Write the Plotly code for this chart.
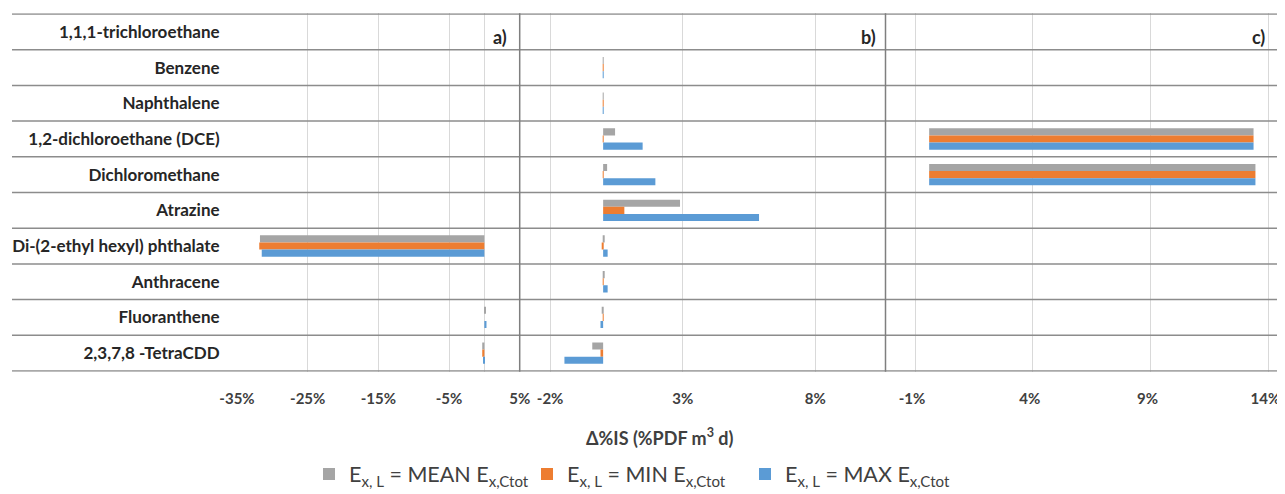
import plotly.graph_objects as go

# page body has an 8px margin: build the figure so that it fits the window
OFF = 8
W, H = 1285 - OFF, 494 - OFF

categories = [
    "1,1,1-trichloroethane",
    "Benzene",
    "Naphthalene",
    "1,2-dichloroethane (DCE)",
    "Dichloromethane",
    "Atrazine",
    "Di-(2-ethyl hexyl) phthalate",
    "Anthracene",
    "Fluoranthene",
    "2,3,7,8 -TetraCDD",
]

# Panel a) values (%)
mean_a = [0, 0, 0, 0, 0, 0, -31.75, 0, 0.1, -0.3]
min_a = [0, 0, 0, 0, 0, 0, -31.85, 0, 0.0, -0.3]
max_a = [0, 0, 0, 0, 0, 0, -31.5, 0, 0.3, -0.15]

# Panel b) values (%)
mean_b = [0, 0.01, 0.02, 0.45, 0.15, 2.9, 0.03, 0.05, -0.04, -0.41]
min_b = [0, 0.02, 0.02, 0.02, 0.02, 0.8, -0.03, 0.02, -0.01, -0.1]
max_b = [0, 0.02, 0.02, 1.49, 1.97, 5.88, 0.17, 0.17, -0.1, -1.46]

# Panel c) values (%)
mean_c = [0, 0, 0, 13.77, 13.85, 0, 0, 0, 0, 0]
min_c = [0, 0, 0, 13.77, 13.85, 0, 0, 0, 0, 0]
max_c = [0, 0, 0, 13.77, 13.85, 0, 0, 0, 0, 0]

series_names = [
    "E<sub>x, L</sub> = MEAN E<sub>x,Ctot</sub>",
    "E<sub>x, L</sub> = MIN E<sub>x,Ctot</sub>",
    "E<sub>x, L</sub> = MAX E<sub>x,Ctot</sub>",
]
colors = ["#A5A5A5", "#ED7D31", "#5B9BD5"]

# tick values / labels per panel
ticks_a = [-35, -25, -15, -5, 5]
ticklab_a = ["-35%", "-25%", "-15%", "-5%", "5%"]
ticks_b = [-2, 3, 8]
ticklab_b = ["-2%", "3%", "8%"]
ticks_c = [-0.6, 4.4, 9.4, 14.4]
ticklab_c = ["-1%", "4%", "9%", "14%"]

FONT = "Lato"


def px(x):
    return (x - OFF) / W


def py(y):
    return 1 - (y - OFF) / H


top_px, bot_px = 13.3, 371.7
xa0, xa1 = 237, 519.7
xb1 = 885.5
xc1 = 1283

fig = go.Figure()
panels = [
    ("x", (mean_a, min_a, max_a)),
    ("x2", (mean_b, min_b, max_b)),
    ("x3", (mean_c, min_c, max_c)),
]
for pi, (xax, vals) in enumerate(panels):
    for si, v in enumerate(vals):
        fig.add_trace(go.Bar(
            x=v, y=categories, orientation="h",
            name=series_names[si],
            marker=dict(color=colors[si], line=dict(width=0)),
            xaxis=xax, yaxis="y",
            legendgroup=str(si), showlegend=(pi == 0),
        ))

tickfont_x = dict(family=FONT, size=15, color="#404040", weight="bold")
common_x = dict(
    showgrid=True, gridcolor="#D9D9D9", gridwidth=1,
    ticks="outside", ticklen=13, tickcolor="rgba(0,0,0,0)",
    tickfont=tickfont_x, tickmode="array",
    showline=False, anchor="y", fixedrange=True, automargin=False,
)

fig.update_layout(
    width=W, height=H,
    margin=dict(l=0, r=0, t=0, b=0, autoexpand=False),
    paper_bgcolor="white", plot_bgcolor="white",
    barmode="group", bargap=0.4, bargroupgap=0,
    font=dict(family=FONT, color="#404040"),
    xaxis=dict(domain=[px(xa0), px(xa1)], range=[-35, 5],
               tickvals=ticks_a, ticktext=ticklab_a,
               zeroline=True, zerolinecolor="#D9D9D9", zerolinewidth=1,
               **common_x),
    xaxis2=dict(domain=[px(xa1), px(xb1)], range=[-3.147, 10.65],
                tickvals=ticks_b, ticktext=ticklab_b,
                zeroline=False, **common_x),
    xaxis3=dict(domain=[px(xb1), px(xc1)], range=[-1.853, 15.02],
                tickvals=ticks_c, ticktext=ticklab_c,
                zeroline=False, ticklabelshift=-3, **common_x),
    yaxis=dict(domain=[py(bot_px), py(top_px)], type="category",
               categoryorder="array", categoryarray=categories,
               autorange="reversed", showgrid=False, zeroline=False,
               ticks="outside", ticklen=13, tickcolor="rgba(0,0,0,0)",
               tickfont=dict(family=FONT, size=17, color="#262626", weight="bold"),
               anchor="x", fixedrange=True, automargin=False),
    legend=dict(orientation="h", x=px(309), y=py(474), yanchor="middle",
                xanchor="left", font=dict(family=FONT, size=21.5, color="#404040"),
                entrywidth=173, entrywidthmode="pixels",
                bgcolor="rgba(0,0,0,0)"),
    showlegend=True,
)

shapes = []
# horizontal category separators (extend across label area)
for i in range(len(categories) + 1):
    shapes.append(dict(type="line", xref="paper", yref="y",
                       x0=px(12), x1=px(xc1), y0=i - 0.5, y1=i - 0.5,
                       line=dict(color="#8C8C8C", width=1.5)))
# panel dividers
for xd in (xa1, xb1):
    shapes.append(dict(type="line", xref="paper", yref="paper",
                       x0=px(xd), x1=px(xd), y0=py(bot_px), y1=py(top_px),
                       line=dict(color="#7F7F7F", width=1.5)))
fig.update_layout(shapes=shapes)

ann = []
for lab, xp in (("a)", 500), ("b)", 868), ("c)", 1258)):
    ann.append(dict(text=f"<b>{lab}</b>", x=px(xp), y=py(37), xref="paper", yref="paper",
                    showarrow=False, xanchor="center", yanchor="middle",
                    font=dict(family=FONT, size=18, color="#262626")))
ann.append(dict(text="<b>Δ%IS (%PDF m<sup>3</sup> d)</b>", x=px(660), y=py(437),
                xref="paper", yref="paper", showarrow=False,
                xanchor="center", yanchor="middle",
                font=dict(family=FONT, size=18, color="#404040")))
fig.update_layout(annotations=ann)

fig.write_html("out.html")
